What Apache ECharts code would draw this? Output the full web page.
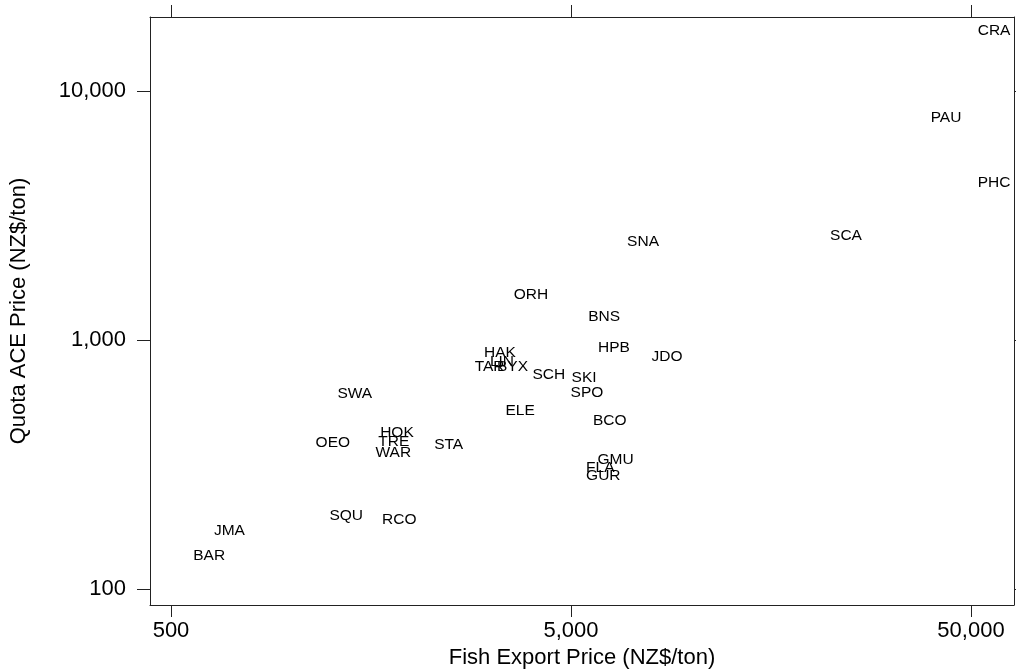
<!DOCTYPE html>
<html>
<head>
<meta charset="utf-8">
<script src="https://cdn.jsdelivr.net/npm/echarts@6/dist/echarts.min.js"></script>
<style>
html,body{margin:0;padding:0;background:#fff;}
#chart{width:1016px;height:671px;}
</style>
</head>
<body>
<div id="chart"></div>
<script>
// Species codes
const codes = ['CRA','PAU','PHC','SCA','SNA','ORH','BNS','HPB','JDO','HAK','LIN','TAR','BYX','SCH','SKI','SPO','SWA','ELE','BCO','HOK','TRE','WAR','OEO','STA','GMU','FLA','GUR','SQU','RCO','JMA','BAR'];
// Fish export price (NZ$/ton)
const exportPrice = [57100,43300,57100,24350,7570,3970,6050,6400,8690,3320,3360,3130,3570,4400,5390,5480,1440,3730,6250,1836,1803,1798,1269,2472,6460,5918,6022,1371,1860,700,623];
// Quota ACE price (NZ$/ton)
const acePrice = [17420,7830,4290,2617,2475,1523,1240,930,860,891,816,784,784,723,705,614,611,520,474,426,390,352,386,379,329,308,285,197,190,172,136];
// Tick values
const xTicks = [500, 5000, 50000];
const yTicks = [100, 1000, 10000];

const FONT = '"Liberation Sans", Arial, Helvetica, sans-serif';
const lg = v => Math.log10(v);
const fmt = v => Math.round(Math.pow(10, v)).toLocaleString('en-US');

const xMin = 2.64647, xMax = 4.80647;
const yMin = 1.93574, yMax = 4.29719;

const data = codes.map((c, i) => ({ value: [lg(exportPrice[i]), lg(acePrice[i])], name: c }));

const lineStyle = { color: '#222', width: 1 };

const chart = echarts.init(document.getElementById('chart'), null, { renderer: 'canvas' });
chart.setOption({
  animation: false,
  backgroundColor: '#fff',
  grid: { left: 150, top: 17, right: 2, bottom: 66, containLabel: false, outerBoundsMode: 'none' },
  xAxis: [
    {
      type: 'value', position: 'bottom', min: xMin, max: xMax,
      axisLine: { show: true, onZero: false, lineStyle },
      axisTick: { show: true, inside: false, length: 12, customValues: xTicks.map(lg), lineStyle },
      axisLabel: { show: true, margin: 15, customValues: xTicks.map(lg), formatter: fmt, color: '#000', fontSize: 22, fontFamily: FONT },
      splitLine: { show: false },
      name: 'Fish Export Price (NZ$/ton)', nameLocation: 'middle', nameGap: 37,
      nameTextStyle: { color: '#000', fontSize: 22, fontFamily: FONT }
    },
    {
      type: 'value', position: 'top', min: xMin, max: xMax,
      axisLine: { show: true, onZero: false, lineStyle },
      axisTick: { show: true, inside: false, length: 12, customValues: xTicks.map(lg), lineStyle },
      axisLabel: { show: false },
      splitLine: { show: false }
    }
  ],
  yAxis: [
    {
      type: 'value', position: 'left', min: yMin, max: yMax,
      axisLine: { show: true, onZero: false, lineStyle },
      axisTick: { show: true, inside: false, length: 13, customValues: yTicks.map(lg), lineStyle },
      axisLabel: { show: true, margin: 24, customValues: yTicks.map(lg), formatter: fmt, color: '#000', fontSize: 22, fontFamily: FONT },
      splitLine: { show: false },
      name: 'Quota ACE Price (NZ$/ton)', nameLocation: 'middle', nameGap: 120,
      nameTextStyle: { color: '#000', fontSize: 22, fontFamily: FONT }
    },
    {
      type: 'value', position: 'right', min: yMin, max: yMax,
      axisLine: { show: true, onZero: false, lineStyle },
      axisTick: { show: true, inside: false, length: 12, customValues: yTicks.map(lg), lineStyle },
      axisLabel: { show: false },
      splitLine: { show: false }
    }
  ],
  series: [{
    type: 'scatter',
    xAxisIndex: 0, yAxisIndex: 0,
    symbol: 'circle',
    symbolSize: 1,
    itemStyle: { color: 'rgba(0,0,0,0)', opacity: 1 },
    data: data,
    label: {
      show: true, position: 'inside', formatter: p => p.name,
      color: '#000', fontSize: 15.5, fontFamily: FONT, opacity: 1,
      align: 'center', verticalAlign: 'middle', offset: [0, 1.5]
    },
    labelLayout: { hideOverlap: false },
    emphasis: { disabled: true }
  }]
});
</script>
</body>
</html>
